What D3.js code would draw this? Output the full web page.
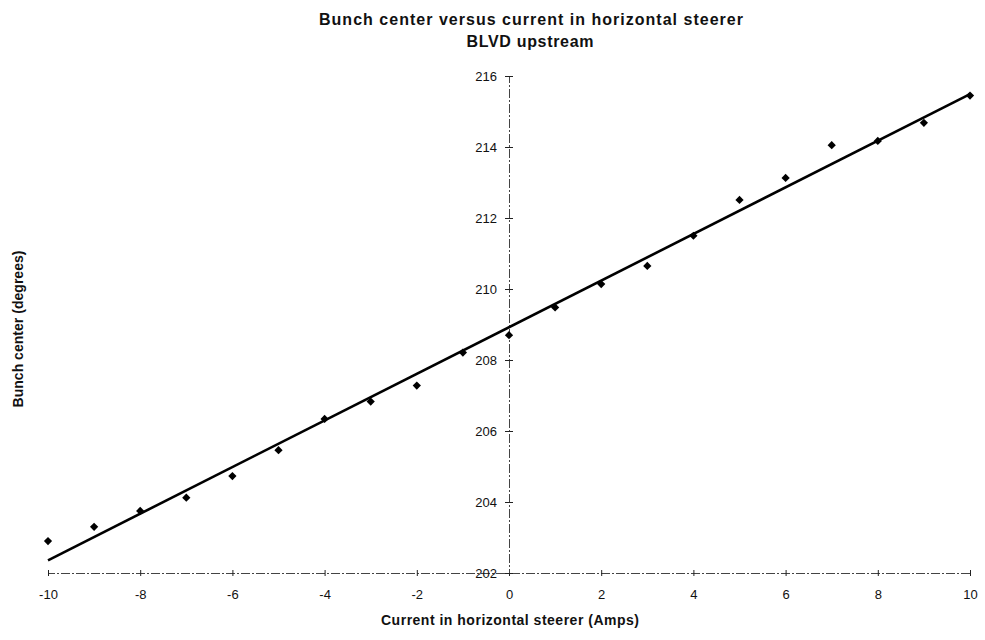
<!DOCTYPE html>
<html>
<head>
<meta charset="utf-8">
<script src="https://cdn.jsdelivr.net/npm/d3@7"></script>
<style>
  html, body { margin: 0; padding: 0; background: #fff; }
  svg text { font-family: "Liberation Sans", Arial, Helvetica, sans-serif; fill: #111; }
</style>
</head>
<body>
<svg id="chart" width="985" height="640"></svg>
<script>
// Steerer current settings (A)
const currents = [-10, -9, -8, -7, -6, -5, -4, -3, -2, -1, 0, 1, 2, 3, 4, 5, 6, 7, 8, 9, 10];
// Measured bunch centre (degrees)
const bunchCenter = [202.90, 203.30, 203.75, 204.12, 204.73, 205.46, 206.34, 206.83, 207.28, 208.21,
                     208.70, 209.48, 210.14, 210.65, 211.50, 212.51, 213.13, 214.05, 214.17, 214.68, 215.45];
const xTicks = [-10, -8, -6, -4, -2, 0, 2, 4, 6, 8, 10];
const yTicks = [202, 204, 206, 208, 210, 212, 214, 216];
const titleLines = ["Bunch center versus current in horizontal steerer", "BLVD upstream"];
const xLabel = "Current in horizontal steerer (Amps)";
const yLabel = "Bunch center (degrees)";

const svg = d3.select("#chart");
const x = d3.scaleLinear().domain([-10, 10]).range([48, 970]);
const y = d3.scaleLinear().domain([202, 216]).range([573, 76]);

// Least-squares fit through the measurements
const mx = d3.mean(currents), my = d3.mean(bunchCenter);
const slope = d3.sum(currents, (c, i) => (c - mx) * (bunchCenter[i] - my)) /
              d3.sum(currents, c => (c - mx) * (c - mx));
const intercept = my - slope * mx;

const axisStroke = "#444";
const axisDash = "9,2,2,2";
const plainNum = d => String(d);

// X axis along y = 202
const gx = svg.append("g")
  .attr("transform", `translate(0,${y(202)})`)
  .call(d3.axisBottom(x).tickValues(xTicks).tickFormat(plainNum).tickSizeOuter(0).tickSize(3).tickPadding(14));
gx.select(".domain").attr("stroke", axisStroke).attr("stroke-width", 1).attr("stroke-dasharray", axisDash);
gx.selectAll(".tick line").attr("y1", -3).attr("y2", 3).attr("stroke", "#222");
gx.selectAll(".tick text").attr("font-size", 13).attr("fill", "#111")
  .attr("font-family", "Liberation Sans, Arial, sans-serif");

// Y axis along x = 0
const gy = svg.append("g")
  .attr("transform", `translate(${x(0)},0)`)
  .call(d3.axisLeft(y).tickValues(yTicks).tickFormat(plainNum).tickSizeOuter(0).tickSize(4).tickPadding(8));
gy.select(".domain").attr("stroke", axisStroke).attr("stroke-width", 1).attr("stroke-dasharray", axisDash);
gy.selectAll(".tick line").attr("x1", -4).attr("x2", 4).attr("stroke", "#222");
gy.selectAll(".tick text").attr("font-size", 13).attr("fill", "#111")
  .attr("font-family", "Liberation Sans, Arial, sans-serif");

// Fitted trend line
svg.append("line")
  .attr("x1", x(-10)).attr("y1", y(intercept + slope * -10))
  .attr("x2", x(10)).attr("y2", y(intercept + slope * 10))
  .attr("stroke", "#000").attr("stroke-width", 2.6);

// Data markers (diamonds)
const diamond = d3.symbol().type(d3.symbolSquare).size(34);
svg.append("g").selectAll("path")
  .data(currents.map((c, i) => ({ c, v: bunchCenter[i] })))
  .join("path")
  .attr("d", diamond)
  .attr("transform", d => `translate(${x(d.c)},${y(d.v)}) rotate(45)`)
  .attr("fill", "#000");

// Titles
svg.append("text").attr("x", 531).attr("y", 25).attr("text-anchor", "middle")
  .attr("font-size", 16).attr("font-weight", "bold")
  .attr("textLength", 424).attr("lengthAdjust", "spacing")
  .text(titleLines[0]);
svg.append("text").attr("x", 530).attr("y", 47).attr("text-anchor", "middle")
  .attr("font-size", 16).attr("font-weight", "bold")
  .attr("textLength", 127).attr("lengthAdjust", "spacing")
  .text(titleLines[1]);

svg.append("text").attr("x", 510).attr("y", 625).attr("text-anchor", "middle")
  .attr("font-size", 14).attr("font-weight", "bold")
  .attr("textLength", 258).attr("lengthAdjust", "spacing")
  .text(xLabel);

svg.append("text").attr("transform", "translate(23,329) rotate(-90)").attr("text-anchor", "middle")
  .attr("font-size", 14).attr("font-weight", "bold")
  .attr("textLength", 157).attr("lengthAdjust", "spacing")
  .text(yLabel);
</script>
</body>
</html>
